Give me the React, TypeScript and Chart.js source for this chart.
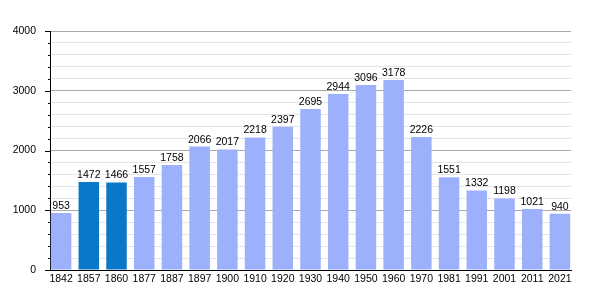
import React, { useEffect, useRef } from "react";
import { Chart, registerables } from "chart.js";

Chart.register(...registerables);

const categories = ["1842", "1857", "1860", "1877", "1887", "1897", "1900", "1910", "1920", "1930", "1940", "1950", "1960", "1970", "1981", "1991", "2001", "2011", "2021"];
const population = [953, 1472, 1466, 1557, 1758, 2066, 2017, 2218, 2397, 2695, 2944, 3096, 3178, 2226, 1551, 1332, 1198, 1021, 940];
const highlighted = ["1857", "1860"];
const yTicksMajor = [0, 1000, 2000, 3000, 4000];

const LIGHT = "#9db0fc";
const DARK = "#0a78c8";
const FONT = "Liberation Sans, Arial, sans-serif";

const valueLabels = {
  id: "valueLabels",
  afterDatasetsDraw(chart: any) {
    const ctx = chart.ctx;
    const meta = chart.getDatasetMeta(0);
    ctx.save();
    ctx.font = `10.5px ${FONT}`;
    ctx.fillStyle = "#000";
    ctx.textAlign = "center";
    ctx.textBaseline = "alphabetic";
    meta.data.forEach((el: any, i: number) => {
      ctx.fillText(String(population[i]), el.x, el.y - 4);
    });
    ctx.restore();
  },
};

const yTickMarks = {
  id: "yTickMarks",
  afterDraw(chart: any) {
    const ctx = chart.ctx;
    const y = chart.scales.y;
    const left = chart.chartArea.left;
    ctx.save();
    ctx.strokeStyle = "#000";
    ctx.lineWidth = 1;
    y.ticks.forEach((t: any) => {
      const py = Math.round(y.getPixelForValue(t.value)) + 0.5;
      const len = yTicksMajor.includes(t.value) ? 5 : 2;
      ctx.beginPath();
      ctx.moveTo(left - len, py);
      ctx.lineTo(left, py);
      ctx.stroke();
    });
    ctx.restore();
  },
};

export default function App() {
  const ref = useRef<HTMLCanvasElement>(null);
  useEffect(() => {
    document.body.style.margin = "0";
    const chart = new Chart(ref.current as HTMLCanvasElement, {
      type: "bar",
      data: {
        datasets: [
          {
            data: population.map((v, i) => ({ x: i, y: v })),
            backgroundColor: categories.map((c) => (highlighted.includes(c) ? DARK : LIGHT)),
            borderWidth: 0,
            barPercentage: 0.74,
            categoryPercentage: 1,
          },
        ],
      },
      options: {
        responsive: false,
        animation: false,
        layout: { padding: { top: 31, right: 29, left: 0, bottom: 0 } },
        plugins: { legend: { display: false }, tooltip: { enabled: false } },
        scales: {
          x: {
            type: "linear",
            offset: false,
            min: -0.4,
            max: categories.length - 1 + 0.4,
            afterBuildTicks: (scale: any) => {
              scale.ticks = categories.map((_, i) => ({ value: i }));
            },
            afterFit: (scale: any) => {
              scale.height = 30;
            },
            grid: { display: false, drawTicks: false, offset: false },
            border: { display: true, color: "#000", width: 1 },
            ticks: {
              autoSkip: false,
              maxRotation: 0,
              padding: 3,
              color: "#000",
              font: { family: FONT, size: 10.5 },
              callback: (v: any) => categories[v as number] ?? "",
            },
          },
          y: {
            min: 0,
            max: 4000,
            afterFit: (scale: any) => {
              scale.width = 50;
            },
            grid: {
              drawTicks: false,
              color: (c: any) => (yTicksMajor.includes(c.tick.value) ? "#aaaaaa" : "#e4e4e4"),
            },
            border: { display: true, color: "#000", width: 1 },
            ticks: {
              stepSize: 200,
              autoSkip: false,
              padding: 14,
              color: "#000",
              font: { family: FONT, size: 10.5 },
              callback: (v: any) => (yTicksMajor.includes(v) ? String(v) : ""),
            },
          },
        },
      },
      plugins: [valueLabels, yTickMarks],
    } as any);
    return () => chart.destroy();
  }, []);
  return (
    <div style={{ position: "absolute", left: 0, top: 0 }}>
      <canvas ref={ref} width={600} height={300} style={{ display: "block" }} />
    </div>
  );
}
